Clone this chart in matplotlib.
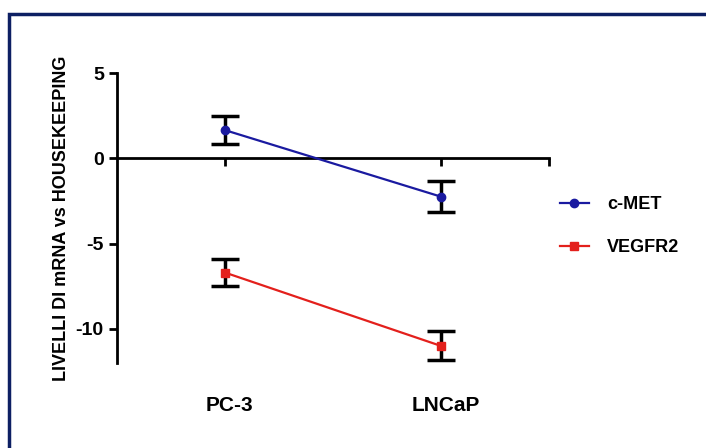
import numpy as np
import matplotlib
matplotlib.use("Agg")
from matplotlib import pyplot as plt
from matplotlib.patches import Rectangle

plt.rcParams['font.family'] = ['Liberation Sans', 'DejaVu Sans']

# data
categories = ['PC-3', 'LNCaP']
cmet = [1.65, -2.25]
cmet_err = [0.8, 0.9]
vegfr2 = [-6.7, -11.0]
vegfr2_err = [0.8, 0.85]

xpos = np.array([0.5, 1.5])

fig = plt.figure(figsize=(7.06, 4.48), dpi=100)
ax = fig.add_axes([117/706, 1-363/448, 432/706, 290/448])

# outer navy frame
fig.patches.append(Rectangle((8.5/706, -0.2), 1.2, 1.2 - 14/448,
                             transform=fig.transFigure, fill=False,
                             edgecolor='#0d1f63', linewidth=2.5))

ax.errorbar(xpos, cmet, yerr=cmet_err, color='#1a1aa0', lw=1.6,
            marker='o', ms=6, ecolor='black', elinewidth=2.5,
            capsize=10, capthick=2.5, label='c-MET', zorder=3)
ax.errorbar(xpos, vegfr2, yerr=vegfr2_err, color='#e3201c', lw=1.6,
            marker='s', ms=6, ecolor='black', elinewidth=2.5,
            capsize=10, capthick=2.5, label='VEGFR2', zorder=3)

ax.set_xlim(0, 2)
ax.set_ylim(-12, 5)
ax.spines['top'].set_visible(False)
ax.spines['right'].set_visible(False)
ax.spines['bottom'].set_position(('data', 0))
ax.spines['left'].set_linewidth(2)
ax.spines['bottom'].set_linewidth(2)

ax.set_yticks([5, 0, -5, -10])
ax.set_yticklabels(['5', '0', '-5', '-10'], fontsize=14, fontweight='bold')
ax.set_xticks([0.5, 1.5, 2.0])
ax.set_xticklabels(['', '', ''])
ax.tick_params(axis='both', width=2, length=6, direction='out')

for x, lab in zip(xpos, categories):
    ax.text(x + 0.02, -14.5, lab, ha='center', va='center', fontsize=15,
            fontweight='bold')

fig.text(62/706, 1-218/448, 'LIVELLI DI mRNA vs HOUSEKEEPING', rotation=90,
         ha='center', va='center', fontsize=13, fontweight='bold')

handles, labels = ax.get_legend_handles_labels()
handles = [h[0] for h in handles]
fig.legend(handles, labels, loc='center left',
           bbox_to_anchor=(560/706, 1-226/448), frameon=False,
           borderaxespad=0, borderpad=0,
           prop={'weight': 'bold', 'size': 13}, labelspacing=1.45,
           handlelength=1.6, handletextpad=1.0)

fig.savefig('out.png', dpi=100)
